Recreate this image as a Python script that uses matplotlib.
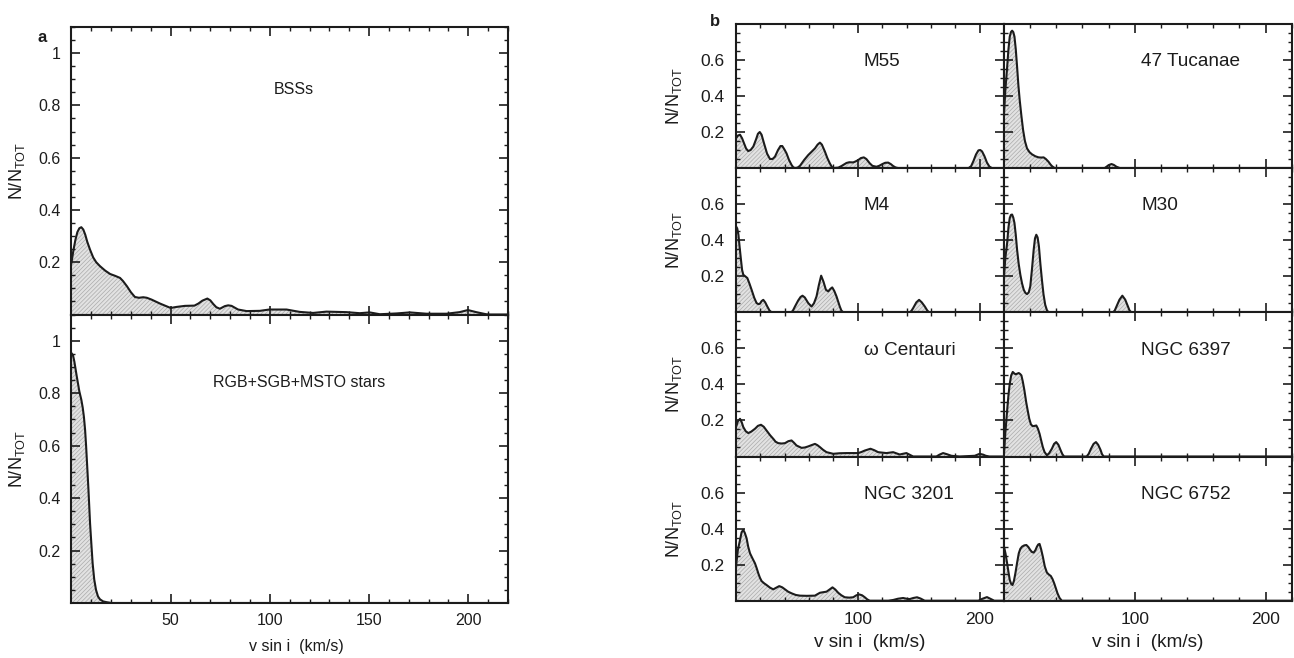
import matplotlib
matplotlib.use("Agg")
import matplotlib.pyplot as plt
from matplotlib.ticker import MultipleLocator

plt.rcParams['font.family'] = ['Liberation Sans', 'DejaVu Sans']
plt.rcParams['mathtext.fontset'] = 'custom'
plt.rcParams['mathtext.rm'] = 'Liberation Sans'
plt.rcParams['mathtext.it'] = 'Liberation Sans:italic'
plt.rcParams['hatch.linewidth'] = 0.5

# ---------------- data (v sin i in km/s, N/N_TOT) ----------------
bss_v = [0, 1, 2, 3, 4, 5, 6, 7, 8, 9.4, 11, 12.5, 14.4, 17, 19.5, 22, 24.5, 26, 28, 30, 32,
         34, 36.2, 38, 40.4, 44.6, 50, 53, 57.2, 62, 64, 66, 68.5, 70, 71.5, 73, 74.8, 77.3,
         79, 80.7, 84, 88.3, 95, 99.7, 108.4, 115, 121.8, 128.5, 138.6, 145.3, 150.3, 155.4,
         163.8, 170.5, 178.9, 189, 195.6, 199.8, 204, 209, 211, 220]
bss_n = [0.197, 0.245, 0.285, 0.315, 0.33, 0.334, 0.325, 0.305, 0.278, 0.248, 0.218, 0.2,
         0.185, 0.168, 0.155, 0.148, 0.14, 0.128, 0.108, 0.085, 0.067, 0.064, 0.066, 0.064,
         0.057, 0.042, 0.025, 0.029, 0.033, 0.034, 0.042, 0.053, 0.061, 0.054, 0.04, 0.028,
         0.022, 0.032, 0.035, 0.033, 0.019, 0.013, 0.014, 0.019, 0.019, 0.010, 0.006, 0.011,
         0.009, 0.005, 0.008, 0.001, 0.004, 0.008, 0.003, 0.003, 0.009, 0.017, 0.009, 0.001,
         0.0, 0.0]

rgb_v = [0, 0.8, 1.5, 2.7, 4, 5, 5.7, 6.3, 6.9, 7.4, 7.9, 8.6, 9.4, 10.1, 10.7, 11.5, 12.4,
         13.4, 14.4, 16, 17.8, 20.3, 220]
rgb_n = [0.953, 0.945, 0.92, 0.864, 0.807, 0.775, 0.745, 0.71, 0.66, 0.6, 0.53, 0.431, 0.304,
         0.22, 0.151, 0.09, 0.05, 0.025, 0.014, 0.006, 0.003, 0.0, 0.0]

m55_v = [0, 1.5, 3.3, 5, 6.6, 8.3, 10, 12, 14.2, 16.5, 18, 19.5, 21, 23, 25.5, 27.9, 30, 32,
         34.5, 36.5, 38, 40, 41.5, 43.5, 45.6, 47, 48.4, 50.5, 52.5, 56, 59.3, 62, 64.8, 67,
         68.9, 70.5, 73, 75, 77, 78.5, 79.8, 84, 86.6, 90.7, 93, 96.2, 98, 100.3, 102.5, 104.9,
         107, 109.8, 112, 115.3, 117.5, 120.2, 122.5, 124.9, 127, 129, 131, 133, 191, 193, 195,
         197, 199, 200.5, 202, 204, 206, 208, 210, 220]
m55_n = [0.165, 0.18, 0.185, 0.165, 0.137, 0.108, 0.094, 0.1, 0.119, 0.16, 0.19, 0.2, 0.185,
         0.137, 0.08, 0.05, 0.05, 0.063, 0.1, 0.122, 0.122, 0.1, 0.081, 0.045, 0.017, 0.004,
         0.0, 0.002, 0.012, 0.045, 0.072, 0.09, 0.109, 0.13, 0.141, 0.13, 0.091, 0.055, 0.026,
         0.008, 0.0, 0.002, 0.011, 0.028, 0.032, 0.031, 0.036, 0.044, 0.055, 0.059, 0.05,
         0.026, 0.012, 0.007, 0.012, 0.022, 0.029, 0.03, 0.022, 0.011, 0.003, 0.0, 0.0, 0.01,
         0.04, 0.075, 0.098, 0.1, 0.092, 0.065, 0.03, 0.008, 0.0, 0.0]

tuc47_v = [0, 1, 2.4, 3.4, 4.4, 5.3, 6.2, 7.1, 8, 9, 10, 11, 12, 13.3, 14.6, 16, 17.6, 19.5,
           21.4, 24, 26.5, 28.5, 30.3, 32, 34, 35.5, 36.6, 38, 39, 77, 78.4, 80, 82.2, 84, 86,
           88.5, 220]
tuc47_n = [0.3, 0.43, 0.56, 0.66, 0.73, 0.755, 0.763, 0.755, 0.73, 0.66, 0.563, 0.46, 0.378,
           0.29, 0.211, 0.15, 0.109, 0.088, 0.076, 0.065, 0.059, 0.058, 0.059, 0.05, 0.035,
           0.02, 0.011, 0.003, 0.0, 0.0, 0.007, 0.016, 0.022, 0.017, 0.007, 0.0, 0.0]

m4_v = [0, 1, 2, 3, 4.1, 5, 6, 7.5, 9.3, 11, 12.8, 15, 16.9, 18.5, 19.7, 21, 22.4, 24, 25.7,
        27.5, 29.2, 45.6, 47, 48.4, 51, 53, 54.6, 56.5, 59.3, 62, 64, 66.1, 68, 69.9, 71.8,
        73.8, 75.7, 77.5, 79, 80.7, 82.5, 85.2, 86.5, 88, 142.6, 144, 145.4, 148, 150.3, 152.5,
        155, 157, 158.5, 220]
m4_n = [0.477, 0.465, 0.43, 0.36, 0.29, 0.235, 0.208, 0.2, 0.19, 0.16, 0.125, 0.08, 0.051,
        0.045, 0.048, 0.062, 0.069, 0.055, 0.032, 0.01, 0.0, 0.0, 0.013, 0.032, 0.065, 0.085,
        0.092, 0.082, 0.051, 0.032, 0.05, 0.088, 0.15, 0.203, 0.17, 0.125, 0.116, 0.13, 0.138,
        0.118, 0.088, 0.032, 0.01, 0.0, 0.0, 0.008, 0.023, 0.055, 0.069, 0.055, 0.032, 0.01,
        0.0, 0.0]

m30_v = [0, 1, 2.4, 3.4, 4.4, 5.3, 6.2, 7.1, 8, 9, 10, 11.2, 12.5, 13.8, 15.1, 16.3, 17.6,
         18.9, 20.1, 21.4, 22.7, 23.7, 24.7, 25.7, 26.7, 27.8, 29, 30.2, 31.5, 32.8, 34, 83.4,
         84.7, 86, 88.3, 90.5, 92.7, 94.8, 96, 97.3, 220]
m30_n = [0.2, 0.3, 0.384, 0.47, 0.523, 0.54, 0.542, 0.525, 0.495, 0.43, 0.347, 0.27, 0.208,
         0.16, 0.125, 0.108, 0.101, 0.11, 0.144, 0.24, 0.347, 0.41, 0.43, 0.415, 0.366, 0.27,
         0.18, 0.1, 0.042, 0.012, 0.0, 0.0, 0.01, 0.032, 0.07, 0.092, 0.07, 0.032, 0.01, 0.0,
         0.0]

omega_v = [0, 1.5, 3.3, 4.7, 6, 8, 10.1, 12.5, 15.6, 18, 20.5, 22.8, 25.1, 28, 30.6, 32.5,
           34.7, 37.5, 40.2, 43, 45.6, 47.5, 49.7, 53.8, 56.5, 59.3, 62, 64.8, 66.8, 68.9,
           71.5, 74.3, 79.8, 85, 90.7, 100.3, 103, 105.7, 110.4, 113.5, 116.7, 123.5, 129,
           131.5, 134.4, 137, 139.9, 142.5, 145.4, 164.5, 167, 170, 173, 176.8, 183.6, 196,
           200, 203, 205, 208, 220]
omega_n = [0.163, 0.195, 0.209, 0.19, 0.163, 0.14, 0.13, 0.138, 0.154, 0.17, 0.176, 0.165,
           0.144, 0.118, 0.098, 0.082, 0.074, 0.072, 0.074, 0.085, 0.089, 0.077, 0.061, 0.048,
           0.05, 0.056, 0.063, 0.07, 0.063, 0.052, 0.037, 0.024, 0.015, 0.018, 0.019, 0.019,
           0.025, 0.033, 0.043, 0.035, 0.024, 0.019, 0.024, 0.018, 0.011, 0.015, 0.019, 0.01,
           0.0, 0.0, 0.01, 0.019, 0.013, 0.004, 0.0, 0.004, 0.015, 0.01, 0.004, 0.0, 0.0]

ngc6397_v = [0, 1, 2.4, 3.4, 4.4, 5.5, 6.7, 8, 9, 10.2, 11.3, 12.3, 13.3, 14.4, 15.6, 17,
             18.1, 19.3, 20.6, 22, 23.5, 24.7, 25.9, 27.2, 28.4, 29.7, 31, 32.8, 34.5, 36.6,
             38.3, 39.9, 41.6, 43.4, 44.7, 46, 63.2, 64.8, 66.5, 68.5, 70.3, 72, 73.8, 75,
             76.3, 220]
ngc6397_n = [0.015, 0.13, 0.256, 0.34, 0.404, 0.45, 0.469, 0.46, 0.456, 0.46, 0.463, 0.458,
             0.45, 0.415, 0.367, 0.3, 0.256, 0.21, 0.178, 0.168, 0.17, 0.172, 0.155, 0.126,
             0.09, 0.052, 0.025, 0.007, 0.018, 0.043, 0.07, 0.08, 0.065, 0.033, 0.012, 0.0,
             0.0, 0.015, 0.043, 0.07, 0.08, 0.065, 0.037, 0.012, 0.0, 0.0]

ngc3201_v = [0, 1.5, 3.3, 4.6, 6, 7.3, 8.7, 10, 11.5, 13.5, 15.6, 17, 18.3, 19.6, 21, 23,
             25.1, 28, 30.6, 33, 35.5, 38, 40.2, 42.8, 45.6, 49, 52.5, 58, 64.8, 66.8, 68.9,
             71.5, 74.3, 76.8, 79.2, 81.5, 83.9, 86.5, 89.3, 93, 96.2, 98.8, 101.1, 103.5,
             105.7, 107.8, 109.8, 125, 129, 133, 137.2, 140, 142.6, 145.5, 148.6, 151.5, 154.9,
             199, 202, 206, 209, 212, 220]
ngc3201_n = [0.19, 0.28, 0.337, 0.38, 0.393, 0.375, 0.346, 0.3, 0.263, 0.235, 0.207, 0.18,
             0.152, 0.128, 0.109, 0.097, 0.087, 0.072, 0.063, 0.072, 0.081, 0.074, 0.063, 0.05,
             0.041, 0.032, 0.028, 0.027, 0.028, 0.036, 0.044, 0.047, 0.05, 0.062, 0.074, 0.062,
             0.044, 0.03, 0.019, 0.017, 0.019, 0.03, 0.035, 0.03, 0.019, 0.007, 0.0, 0.0, 0.004,
             0.011, 0.015, 0.011, 0.009, 0.015, 0.019, 0.012, 0.0, 0.0, 0.01, 0.02, 0.01, 0.0,
             0.0]

ngc6752_v = [0, 1.2, 2.4, 3.4, 4.4, 5.5, 6.5, 7.6, 8.7, 10, 11.3, 12.5, 13.8, 15.5, 17.1,
             18.6, 20.1, 21.4, 22.7, 24, 25.2, 26.2, 27.2, 28.4, 29.7, 31.2, 32.8, 34.3, 35.8,
             37.1, 38.4, 39.6, 40.9, 42.5, 44.2, 220]
ngc6752_n = [0.3, 0.26, 0.207, 0.16, 0.115, 0.093, 0.087, 0.11, 0.152, 0.21, 0.263, 0.288,
             0.3, 0.307, 0.309, 0.298, 0.281, 0.27, 0.267, 0.28, 0.3, 0.312, 0.315, 0.285,
             0.244, 0.19, 0.156, 0.145, 0.137, 0.12, 0.096, 0.07, 0.041, 0.015, 0.0, 0.0]

panel_b_names = ["M55", "47 Tucanae", "M4", "M30", "\u03c9 Centauri", "NGC 6397",
                 "NGC 3201", "NGC 6752"]
panel_b_data = [(m55_v, m55_n), (tuc47_v, tuc47_n), (m4_v, m4_n), (m30_v, m30_n),
                (omega_v, omega_n), (ngc6397_v, ngc6397_n), (ngc3201_v, ngc3201_n),
                (ngc6752_v, ngc6752_n)]

a_xticks = [0, 50, 100, 150, 200]
a_xlabels = ['', '50', '100', '150', '200']
a_yticks = [0, 0.2, 0.4, 0.6, 0.8, 1.0]
a_ylabels = ['', '0.2', '0.4', '0.6', '0.8', '1']
b_xticks = [0, 100, 200]
b_xlabels = ['', '100', '200']
b_yticks = [0, 0.2, 0.4, 0.6, 0.8]
b_ylabels = ['', '0.2', '0.4', '0.6', '']

# ---------------- drawing ----------------
W, H = 1294, 658
fig = plt.figure(figsize=(W / 100, H / 100), dpi=100)

def add_ax(x0, y0, x1, y1):
    return fig.add_axes([x0 / W, 1 - y1 / H, (x1 - x0) / W, (y1 - y0) / H])

LINE = '#1c1c1c'

def style(ax, xticks, xlabels, yticks, ylabels, xminor, yminor, xlim, ylim, show_x, show_y,
          fs, pad):
    ax.set_xlim(*xlim)
    ax.set_ylim(*ylim)
    ax.set_xticks(xticks, xlabels)
    ax.set_yticks(yticks, ylabels)
    ax.xaxis.set_minor_locator(MultipleLocator(xminor))
    ax.yaxis.set_minor_locator(MultipleLocator(yminor))
    ax.tick_params(which='both', direction='in', top=True, right=True, color=LINE)
    ax.tick_params(which='major', length=6.5, width=1.2, labelsize=fs, pad=pad,
                   labelcolor=LINE)
    ax.tick_params(which='minor', length=3.2, width=1.0)
    ax.tick_params(axis='x', labelbottom=show_x)
    ax.tick_params(axis='y', labelleft=show_y)
    for s in ax.spines.values():
        s.set_linewidth(1.5)
        s.set_color(LINE)

def draw(ax, v, n):
    ax.fill_between(v, n, 0, facecolor='#e2e2e2', edgecolor='#ababab', hatch='////////',
                    linewidth=0)
    ax.plot(v, n, color=LINE, lw=1.5, solid_joinstyle='round')

# panel a
axa1 = add_ax(71.4, 27, 508, 314.5)
axa2 = add_ax(71.4, 314.5, 508, 603)
draw(axa1, bss_v, bss_n)
draw(axa2, rgb_v, rgb_n)
style(axa1, a_xticks, a_xlabels, a_yticks, a_ylabels, 10, 0.05, (0, 220), (0, 1.1),
      False, True, 11.5, 7.5)
style(axa2, a_xticks, a_xlabels, a_yticks, a_ylabels, 10, 0.05, (0, 220), (0, 1.1),
      True, True, 11.5, 7.5)
axa1.text(112, 0.86, "BSSs", fontsize=11.5, color=LINE, ha='center', va='center')
axa2.text(115, 0.84, "RGB+SGB+MSTO stars", fontsize=11.5, color=LINE, ha='center',
          va='center')
for ax in (axa1, axa2):
    ax.set_ylabel(r'N/N$_{\mathrm{TOT}}$', fontsize=13, color=LINE, labelpad=8)
axa2.set_xlabel('v sin i  (km/s)', fontsize=11.5, color=LINE)
axa2.xaxis.set_label_coords((296 - 71.4) / 436.6, -0.125)
fig.text(42 / W, 1 - 38 / H, 'a', fontsize=12, fontweight='bold', ha='center',
         va='center', color=LINE)

# panel b
cols = [(736, 1004), (1004, 1291.7)]
rows = [(24, 168), (168, 312.3), (312.3, 456.5), (456.5, 600.7)]
for i, (name, (v, n)) in enumerate(zip(panel_b_names, panel_b_data)):
    r, c = divmod(i, 2)
    ax = add_ax(cols[c][0], rows[r][0], cols[c][1], rows[r][1])
    draw(ax, v, n)
    style(ax, b_xticks, b_xlabels, b_yticks, b_ylabels, 20, 0.05, (0, 220), (0, 0.8),
          r == 3, c == 0, 12.5, 8)
    ax.text(105, 0.59, name, fontsize=13.7, color=LINE, ha='left', va='center')
    if c == 0:
        ax.set_ylabel(r'N/N$_{\mathrm{TOT}}$', fontsize=13, color=LINE, labelpad=12)
    if r == 3:
        ax.set_xlabel('v sin i  (km/s)', fontsize=13.7, color=LINE, labelpad=5)
fig.text(715 / W, 1 - 22 / H, 'b', fontsize=12, fontweight='bold', ha='center',
         va='center', color=LINE)

fig.savefig('out.png', dpi=100)
